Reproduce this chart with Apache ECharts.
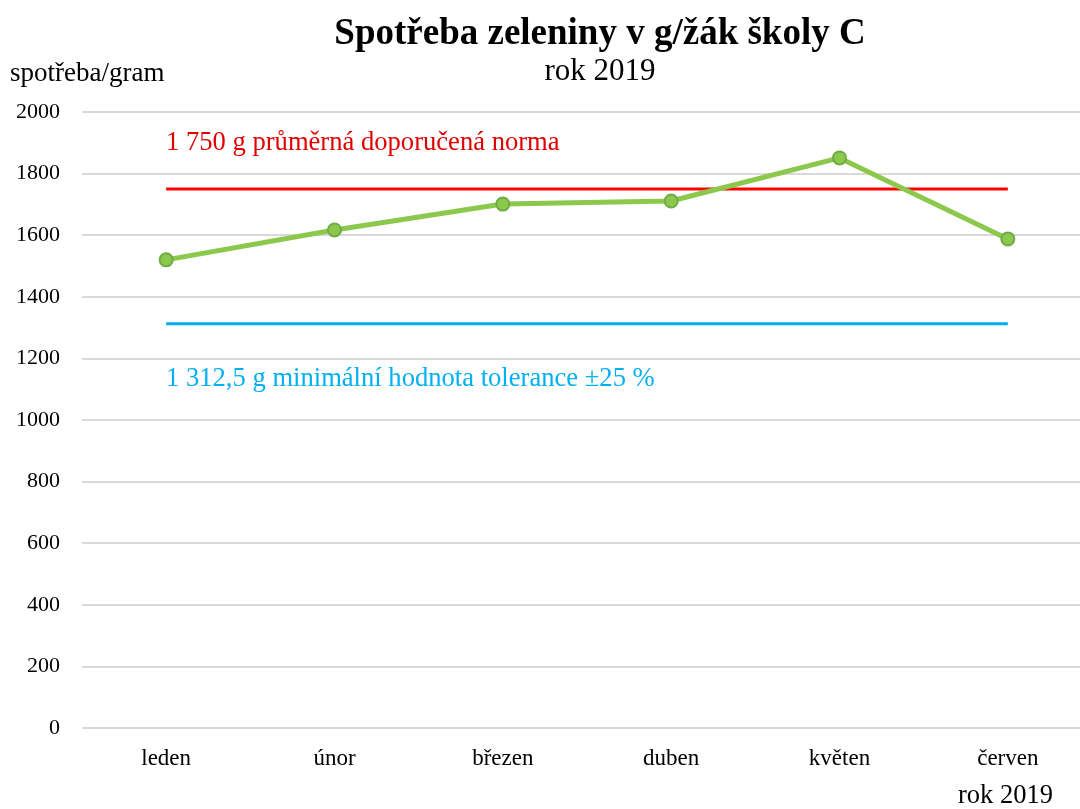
<!DOCTYPE html>
<html>
<head>
<meta charset="utf-8">
<script src="https://cdn.jsdelivr.net/npm/echarts@6/dist/echarts.min.js"></script>
<style>
  html, body { margin: 0; padding: 0; background: #fff; }
  #chart { width: 1080px; height: 809px; }
</style>
</head>
<body>
<div id="chart"></div>
<script>
var months = ['leden', 'únor', 'březen', 'duben', 'květen', 'červen'];
var consumption = [1520, 1617, 1701, 1711, 1851, 1588];
var normValue = [1750, 1750, 1750, 1750, 1750, 1750];
var minValue = [1312.5, 1312.5, 1312.5, 1312.5, 1312.5, 1312.5];
var yTicks = { min: 0, max: 2000, interval: 200 };

var font = '"Liberation Serif", "Times New Roman", serif';

var chart = echarts.init(document.getElementById('chart'));

chart.setOption({
  animation: false,
  backgroundColor: '#fff',
  textStyle: { fontFamily: font },
  title: {
    text: 'Spotřeba zeleniny v g/žák školy C',
    subtext: 'rok 2019',
    left: 595,
    textAlign: 'center',
    top: 11,
    itemGap: 3,
    textStyle: { fontFamily: font, fontSize: 37, fontWeight: 'bold', color: '#000' },
    subtextStyle: { fontFamily: font, fontSize: 31, color: '#000' }
  },
  grid: { left: 82, width: 1010, top: 112, height: 616, outerBoundsMode: 'none' },
  xAxis: {
    type: 'category',
    data: months,
    boundaryGap: true,
    axisLine: { show: false },
    axisTick: { show: false },
    axisLabel: { color: '#000', fontSize: 23, fontFamily: font, margin: 19 }
  },
  yAxis: {
    type: 'value',
    min: yTicks.min,
    max: yTicks.max,
    interval: yTicks.interval,
    axisLine: { show: false },
    axisTick: { show: false },
    axisLabel: {
      color: '#000', fontSize: 22, fontFamily: font, margin: 22,
      formatter: function (v) { return String(v); }
    },
    splitLine: { lineStyle: { color: '#d9d9d9', width: 2 } }
  },
  graphic: [
    { type: 'text', left: 10, top: 60, style: { text: 'spotřeba/gram', font: '27px ' + font, fill: '#000' } },
    { type: 'text', left: 166, top: 130, style: { text: '1 750 g průměrná doporučená norma', font: '26.6px ' + font, fill: '#e00000' } },
    { type: 'text', left: 166, top: 366, style: { text: '1 312,5 g minimální hodnota tolerance ±25 %', font: '26.6px ' + font, fill: '#00b0f0' } },
    { type: 'text', left: 958, top: 783, style: { text: 'rok 2019', font: '26.5px ' + font, fill: '#000' } }
  ],
  series: [
    {
      name: 'norma',
      type: 'line',
      data: normValue,
      symbol: 'none',
      lineStyle: { color: '#ff0000', width: 3 },
      silent: true
    },
    {
      name: 'minimum',
      type: 'line',
      data: minValue,
      symbol: 'none',
      lineStyle: { color: '#00b0f0', width: 3 },
      silent: true
    },
    {
      name: 'spotřeba',
      type: 'line',
      data: consumption,
      symbol: 'circle',
      symbolSize: 13,
      lineStyle: { color: '#8cc84b', width: 5 },
      itemStyle: { color: '#8cc84b', borderColor: '#6fac46', borderWidth: 2 },
      z: 3
    }
  ]
});
</script>
</body>
</html>
